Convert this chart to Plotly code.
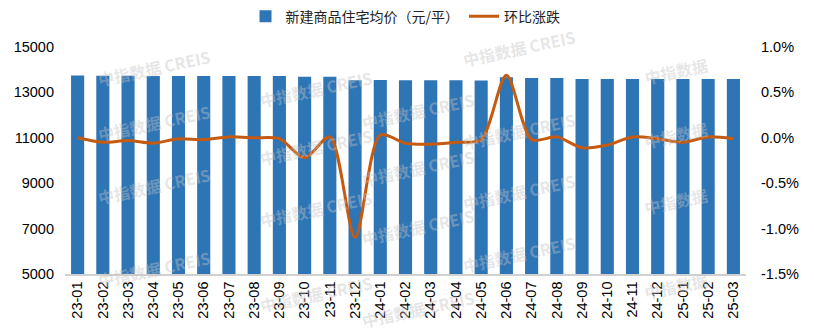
import plotly.graph_objects as go

months = ["23-01", "23-02", "23-03", "23-04", "23-05", "23-06", "23-07", "23-08", "23-09",
          "23-10", "23-11", "23-12", "24-01", "24-02", "24-03", "24-04", "24-05", "24-06",
          "24-07", "24-08", "24-09", "24-10", "24-11", "24-12", "25-01", "25-02", "25-03"]

# 新建商品住宅均价（元/平）
avg_price = [13740, 13735, 13730, 13725, 13725, 13720, 13720, 13722, 13722,
             13692, 13690, 13540, 13545, 13538, 13532, 13532, 13528, 13665,
             13634, 13636, 13590, 13590, 13592, 13590, 13588, 13590, 13588]

# 环比涨跌（%）
mom_pct = [0.00, -0.05, -0.03, -0.06, -0.01, -0.02, 0.01, 0.00, -0.01,
           -0.22, 0.01, -1.10, 0.03, -0.06, -0.07, -0.05, -0.02, 0.69,
           -0.02, 0.01, -0.11, -0.08, 0.01, -0.01, -0.05, 0.01, -0.01]

# right-axis ticks (percent) and their labels, written with a plain hyphen
pct_ticks = [-1.5, -1.0, -0.5, 0.0, 0.5, 1.0]
pct_labels = ["-1.5%", "-1.0%", "-0.5%", "0.0%", "0.5%", "1.0%"]

cjk_font = "Noto Sans CJK SC, Microsoft YaHei, sans-serif"
num_font = "Liberation Sans, Arial, sans-serif"

fig = go.Figure()
fig.add_trace(go.Bar(
    x=months, y=avg_price, name="新建商品住宅均价（元/平）",
    marker=dict(color="#2E75B6", line=dict(width=0)),
    yaxis="y",
))
fig.add_trace(go.Scatter(
    x=months, y=mom_pct, name="环比涨跌",
    mode="lines", line=dict(color="#C55A11", width=3, shape="spline", smoothing=0.8),
    yaxis="y2",
))

# tiled brand watermark: columns of (x, [y ...], text) in paper units
wm_columns = [
    (0.041, [1.022, 0.665, 0.273, -0.093], "中指数据 CREIS"),
    (0.279, [0.930, 0.559, 0.172, -0.203], "中指数据 CREIS"),
    (0.518, [0.833, 0.467, 0.093, -0.269], "中指数据 CREIS"),
    (0.756, [1.110, 0.744, 0.361, -0.026], "中指数据 CREIS"),
    (0.950, [0.987, 0.612, 0.229, -0.145], "中指数据"),
]
annotations = []
for wx, ys, text in wm_columns:
    for wy in ys:
        annotations.append(dict(
            x=wx, y=wy, xref="paper", yref="paper", text="<b>" + text + "</b>",
            showarrow=False, textangle=-12,
            font=dict(size=16, color="rgba(195,195,195,0.42)", family=cjk_font)))

fig.update_layout(
    width=814, height=335,
    margin=dict(l=65, r=68, t=47, b=61, autoexpand=False),
    paper_bgcolor="white", plot_bgcolor="white",
    font=dict(family=num_font, size=14, color="#000000"),
    bargap=0.48,
    showlegend=True,
    legend=dict(orientation="h", x=0.5, xanchor="center",
                yref="container", y=0.95, yanchor="middle",
                font=dict(size=14, color="#222222", family=cjk_font),
                traceorder="normal"),
    xaxis=dict(type="category", tickangle=-90, showgrid=False,
               showline=True, linecolor="#D0D0D0", linewidth=1.5,
               ticks="", tickfont=dict(size=14.5, color="#000000", family=num_font)),
    yaxis=dict(range=[5000, 15000], dtick=2000, tick0=5000, tickformat="d",
               showgrid=False, zeroline=False, showline=False, ticks="",
               ticklabelstandoff=10,
               tickfont=dict(size=14.5, color="#000000", family=num_font)),
    yaxis2=dict(range=[-1.5, 1.0], tickmode="array", tickvals=pct_ticks,
                ticktext=pct_labels,
                overlaying="y", side="right", showgrid=False, zeroline=False,
                showline=False, ticks="", ticklabelstandoff=14,
                tickfont=dict(size=14.5, color="#000000", family=num_font)),
    annotations=annotations,
)

fig.write_html("out.html")
